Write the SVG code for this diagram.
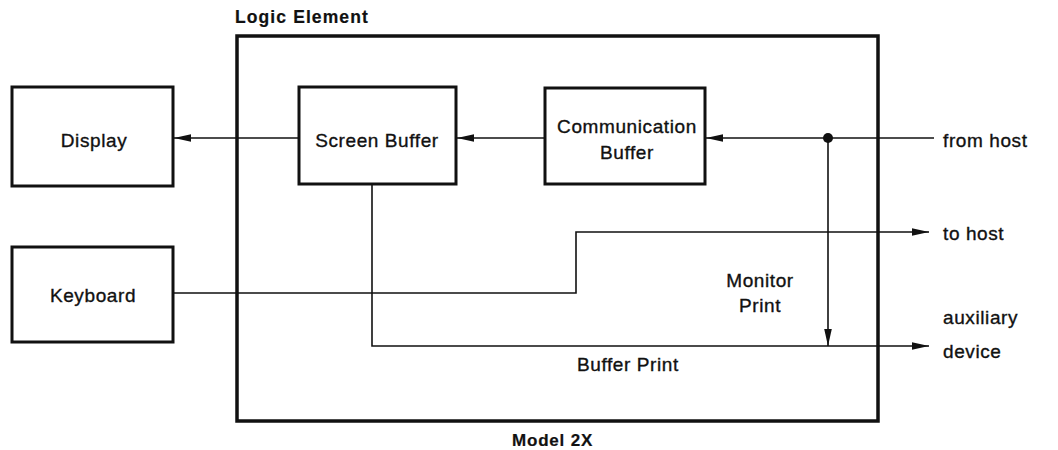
<svg xmlns="http://www.w3.org/2000/svg" width="1058" height="450" viewBox="0 0 1058 450">
<style>
.box{fill:#fff;stroke:#111;stroke-width:3}
.outer{fill:none;stroke:#111;stroke-width:3.5}
.ln{fill:none;stroke:#111;stroke-width:1.6}
text{font-family:"Liberation Sans",Arial,sans-serif;font-size:19px;fill:#111;stroke:#111;stroke-width:0.35;letter-spacing:0.6px}
.b{font-weight:bold;font-size:17px;stroke-width:0.2;letter-spacing:0.8px}
.le{font-size:17.5px;letter-spacing:1.1px}
.m{text-anchor:middle}
</style>
<defs>
<marker id="ah" markerWidth="18" markerHeight="10" refX="17" refY="5" orient="auto" markerUnits="userSpaceOnUse">
<path d="M0,1.2 L17,5 L0,8.8 Z" fill="#111"/>
</marker>
</defs>
<g id="logic-element">
<rect class="outer" x="237" y="36" width="641" height="385"/>
<text class="b le" x="235" y="23">Logic Element</text>
<text class="b" x="512" y="446">Model 2X</text>
</g>
<g id="display">
<rect class="box" x="12" y="87" width="161" height="99"/>
<text class="m" x="94" y="147">Display</text>
</g>
<g id="keyboard">
<rect class="box" x="12" y="247" width="161" height="95"/>
<text class="m" x="93" y="302">Keyboard</text>
</g>
<g id="screen-buffer">
<rect class="box" x="299" y="87" width="157" height="97"/>
<text class="m" x="377" y="147">Screen Buffer</text>
</g>
<g id="communication-buffer">
<rect class="box" x="545" y="88" width="160" height="96"/>
<text class="m" x="627" y="133">Communication</text>
<text class="m" x="627" y="159">Buffer</text>
</g>
<g id="connectors">
<line class="ln" x1="299" y1="138" x2="174" y2="138" marker-end="url(#ah)"/>
<line class="ln" x1="545" y1="138" x2="457" y2="138" marker-end="url(#ah)"/>
<line class="ln" x1="934" y1="138" x2="706" y2="138" marker-end="url(#ah)"/>
<circle cx="828" cy="138" r="5" fill="#111"/>
<line class="ln" x1="828" y1="138" x2="828" y2="346" marker-end="url(#ah)"/>
<polyline class="ln" points="372,184 372,346 929,346" marker-end="url(#ah)"/>
<polyline class="ln" points="173,293 576,293 576,232 929,232" marker-end="url(#ah)"/>
</g>
<g id="labels">
<text x="943" y="147">from host</text>
<text x="943" y="240">to host</text>
<text x="943" y="324">auxiliary</text>
<text x="943" y="358">device</text>
<text class="m" x="760" y="287">Monitor</text>
<text class="m" x="760" y="312">Print</text>
<text x="577" y="371">Buffer Print</text>
</g>
</svg>
